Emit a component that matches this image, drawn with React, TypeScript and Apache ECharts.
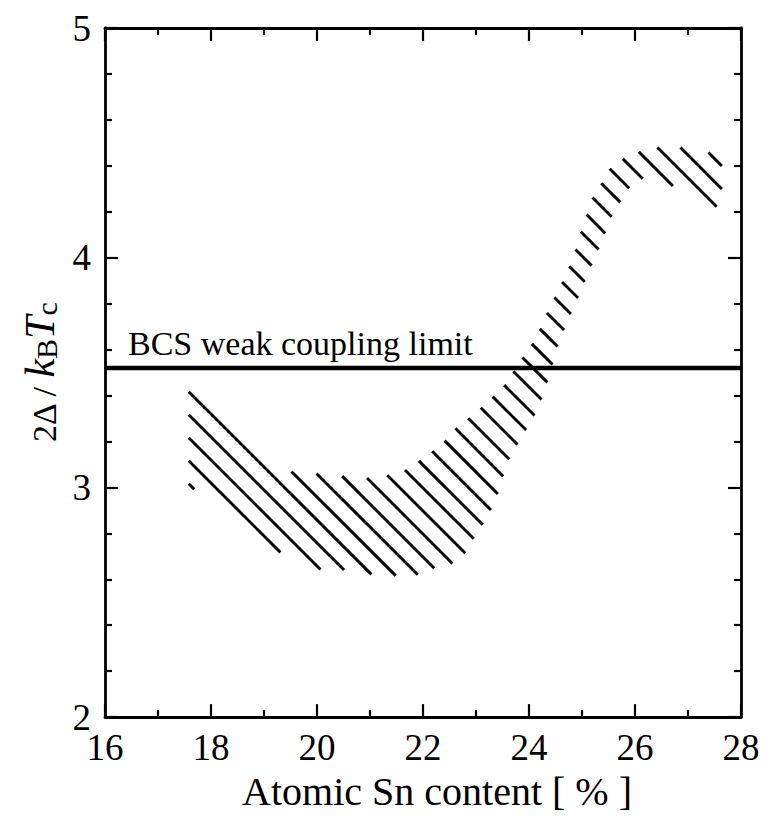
import React, { useEffect, useRef } from "react";
import * as echarts from "echarts";

// Axis ranges
const xRange = [16, 28];
const yRange = [2, 5];
const xStep = 2;
const yStep = 1;

// Texts
const xTitle = "Atomic Sn content [ % ]";
const bcsLabel = "BCS weak coupling limit";

// BCS weak coupling limit
const bcsLimit = 3.52;

// Hatched band: upper and lower edges [Sn %, 2Δ/kBTc]
const upperEdge: number[][] = [
  [17.58, 3.46], [18.23, 3.27], [18.77, 3.15], [19.49, 3.07], [20.02, 3.06],
  [20.43, 3.05], [20.91, 3.04], [21.28, 3.05], [21.62, 3.07], [21.89, 3.11],
  [22.13, 3.15], [22.36, 3.19], [22.57, 3.25], [22.79, 3.29], [23.02, 3.33],
  [23.23, 3.38], [23.45, 3.42], [23.64, 3.48], [23.79, 3.54], [23.96, 3.59],
  [24.15, 3.66], [24.26, 3.72], [24.4, 3.79], [24.55, 3.86], [24.68, 3.92],
  [24.81, 3.99], [24.91, 4.06], [25.0, 4.13], [25.21, 4.27], [25.38, 4.33],
  [25.53, 4.39], [25.77, 4.43], [26.06, 4.46], [26.42, 4.48], [26.85, 4.48],
  [27.28, 4.47], [27.64, 4.43],
];
const lowerEdge: number[][] = [
  [17.58, 3.0], [17.85, 2.98], [18.74, 2.81], [19.72, 2.65], [20.19, 2.64],
  [20.58, 2.64], [21.06, 2.62], [21.57, 2.615], [21.94, 2.62], [22.23, 2.65],
  [22.57, 2.67], [22.79, 2.71], [22.94, 2.77], [23.11, 2.83], [23.26, 2.89],
  [23.4, 2.96], [23.5, 3.04], [23.6, 3.11], [23.74, 3.17], [23.89, 3.23],
  [24.06, 3.29], [24.19, 3.355], [24.3, 3.42], [24.4, 3.5], [24.49, 3.57],
  [24.58, 3.65], [24.72, 3.71], [24.83, 3.78], [24.96, 3.84], [25.09, 3.92],
  [25.21, 3.98], [25.34, 4.05], [25.58, 4.19], [25.75, 4.25], [25.91, 4.31],
  [26.19, 4.35], [26.47, 4.33], [26.75, 4.31], [27.23, 4.26], [27.64, 4.21],
];

const FONT = "Liberation Serif";

export default function App() {
  const ref = useRef<HTMLDivElement>(null);

  useEffect(() => {
    const chart = echarts.init(ref.current!, null, { renderer: "svg" });

    const HATCH_GAP = 23;
    const HATCH_PHASE = 4;

    const renderHatch = (_params: any, api: any) => {
      const origin = api.coord([xRange[0], yRange[1]]);
      const poly = [...upperEdge, ...lowerEdge.slice().reverse()].map((p) => api.coord(p));
      const us = poly.map(([x, y]: number[]) => (y - origin[1]) - (x - origin[0]));
      const uMin = Math.min(...us);
      const uMax = Math.max(...us);
      const children: any[] = [];
      const k0 = Math.ceil((uMin - HATCH_PHASE) / HATCH_GAP);
      for (let k = k0; HATCH_PHASE + k * HATCH_GAP <= uMax; k++) {
        const u0 = HATCH_PHASE + k * HATCH_GAP;
        const hits: number[][] = [];
        for (let i = 0; i < poly.length; i++) {
          const j = (i + 1) % poly.length;
          const a = us[i] - u0;
          const b = us[j] - u0;
          if ((a < 0 && b >= 0) || (a >= 0 && b < 0)) {
            const t = a / (a - b);
            hits.push([
              poly[i][0] + t * (poly[j][0] - poly[i][0]),
              poly[i][1] + t * (poly[j][1] - poly[i][1]),
            ]);
          }
        }
        hits.sort((p, q) => p[0] - q[0]);
        for (let m = 0; m + 1 < hits.length; m += 2) {
          children.push({
            type: "line",
            shape: { x1: hits[m][0], y1: hits[m][1], x2: hits[m + 1][0], y2: hits[m + 1][1] },
            style: { stroke: "#000", lineWidth: 2.9, lineCap: "butt" },
          });
        }
      }
      return { type: "group", children };
    };

    const axisBase = (splitNumber: number) => ({
      type: "value" as const,
      axisLine: { show: true, onZero: false, lineStyle: { color: "#000", width: 2.8 } },
      axisTick: { show: true, inside: true, length: 13, lineStyle: { color: "#000", width: 2.2 } },
      minorTick: { show: true, splitNumber, length: 7, lineStyle: { color: "#000", width: 2.2 } },
      splitLine: { show: false },
      minorSplitLine: { show: false },
    });

    const xBase = { ...axisBase(2), min: xRange[0], max: xRange[1], interval: xStep };
    const yBase = { ...axisBase(5), min: yRange[0], max: yRange[1], interval: yStep };

    const tickRich = { a: { fontFamily: FONT, fontSize: 37, color: "#000" } };

    chart.setOption({
      animation: false,
      backgroundColor: "#fff",
      textStyle: { fontFamily: FONT, color: "#000" },
      grid: { left: 105, right: 26, top: 28, bottom: 95, containLabel: false },
      xAxis: [
        {
          ...xBase,
          position: "bottom",
          axisLabel: {
            fontFamily: FONT,
            fontSize: 37,
            color: "#000",
            margin: 12,
            formatter: (v: number) => `{a|${v}}`,
            rich: tickRich,
          },
          name: `{a|${xTitle}}`,
          nameLocation: "middle",
          nameGap: 52,
          nameTextStyle: {
            fontFamily: FONT,
            fontSize: 40,
            color: "#000",
            padding: [0, 0, 0, 28],
            rich: { a: { fontFamily: FONT, fontSize: 40, color: "#000" } },
          },
        },
        { ...xBase, position: "top", axisLabel: { show: false } },
      ],
      yAxis: [
        {
          ...yBase,
          position: "left",
          axisLabel: {
            fontFamily: FONT,
            fontSize: 37,
            color: "#000",
            margin: 14,
            formatter: (v: number) => `{a|${v}}`,
            rich: tickRich,
          },
          name: "{n|2Δ / }{i|k}{s|B}{i|T}{s|c}",
          nameLocation: "middle",
          nameGap: 44,
          nameTextStyle: {
            color: "#000",
            fontFamily: FONT,
            rich: {
              n: { fontSize: 34, fontFamily: FONT, color: "#000", verticalAlign: "bottom", lineHeight: 40 },
              i: { fontSize: 42, fontFamily: FONT, fontStyle: "italic", color: "#000", verticalAlign: "bottom", lineHeight: 42 },
              s: { fontSize: 30, fontFamily: FONT, color: "#000", verticalAlign: "bottom", lineHeight: 14 },
            },
          },
        },
        { ...yBase, position: "right", axisLabel: { show: false } },
      ],
      graphic: [
        {
          type: "text",
          x: 128,
          y: 343,
          silent: true,
          style: {
            text: `{a|${bcsLabel}}`,
            fill: "#000",
            fontSize: 34,
            fontFamily: FONT,
            verticalAlign: "middle",
            rich: { a: { fontFamily: FONT, fontSize: 34, fill: "#000", color: "#000" } },
          },
        },
      ],
      series: [
        {
          type: "custom",
          coordinateSystem: "cartesian2d",
          renderItem: renderHatch,
          data: [[xRange[0], yRange[0]]],
          silent: true,
          z: 2,
        },
        {
          type: "line",
          data: [[xRange[0], bcsLimit], [xRange[1], bcsLimit]],
          symbol: "none",
          silent: true,
          lineStyle: { color: "#000", width: 4.5 },
          z: 3,
        },
      ],
    });

    return () => chart.dispose();
  }, []);

  return (
    <div
      ref={ref}
      style={{ position: "absolute", left: 0, top: 0, width: 767, height: 816, background: "#fff" }}
    />
  );
}
